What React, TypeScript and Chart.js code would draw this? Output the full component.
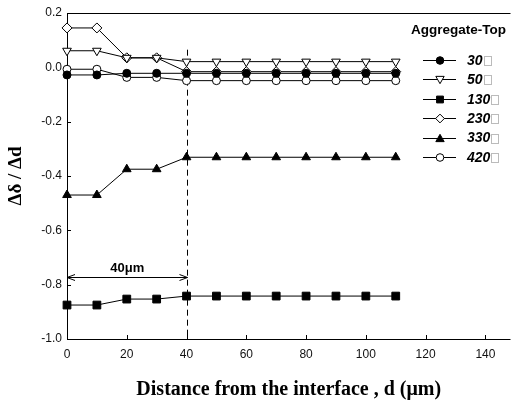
import React, { useEffect, useRef } from "react";
import { Chart, registerables } from "chart.js";
Chart.register(...registerables);

const distances = [0, 10, 20, 30, 40, 50, 60, 70, 80, 90, 100, 110];
const seriesLabels = ["30", "50", "130", "230", "330", "420"];
const s30 = [-0.028, -0.028, -0.022, -0.022, -0.022, -0.022, -0.022, -0.022, -0.022, -0.022, -0.022, -0.022];
const s50 = [0.061, 0.061, 0.035, 0.035, 0.021, 0.021, 0.021, 0.021, 0.021, 0.021, 0.021, 0.021];
const s130 = [-0.875, -0.875, -0.853, -0.853, -0.842, -0.842, -0.842, -0.842, -0.842, -0.842, -0.842, -0.842];
const s230 = [0.145, 0.145, 0.035, 0.035, -0.016, -0.016, -0.016, -0.016, -0.016, -0.016, -0.016, -0.016];
const s330 = [-0.47, -0.47, -0.375, -0.375, -0.331, -0.331, -0.331, -0.331, -0.331, -0.331, -0.331, -0.331];
const s420 = [-0.007, -0.007, -0.037, -0.037, -0.049, -0.049, -0.049, -0.049, -0.049, -0.049, -0.049, -0.049];
const xTicks = [0, 20, 40, 60, 80, 100, 120, 140];
const yTicks = [-1.0, -0.8, -0.6, -0.4, -0.2, 0.0, 0.2];
const markerLine = 40;
const arrowY = -0.772;
const dashTop = 0.065;

type Marker = { style: string; rot: number; filled: boolean; r: number };
const markers: Marker[] = [
  { style: "circle", rot: 0, filled: true, r: 4 },
  { style: "triangle", rot: 180, filled: false, r: 5 },
  { style: "rect", rot: 0, filled: true, r: 5.5 },
  { style: "rectRot", rot: 0, filled: false, r: 5 },
  { style: "triangle", rot: 0, filled: true, r: 5 },
  { style: "circle", rot: 0, filled: false, r: 4 },
];
const values = [s30, s50, s130, s230, s330, s420];

function drawMarker(ctx: CanvasRenderingContext2D, m: Marker, x: number, y: number, r: number) {
  ctx.save();
  ctx.translate(x, y);
  ctx.rotate((m.rot * Math.PI) / 180);
  ctx.beginPath();
  if (m.style === "circle") {
    ctx.arc(0, 0, r, 0, Math.PI * 2);
  } else if (m.style === "rect") {
    const s = r * 0.9;
    ctx.rect(-s, -s, 2 * s, 2 * s);
  } else if (m.style === "rectRot") {
    const s = r * 1.15;
    ctx.moveTo(0, -s);
    ctx.lineTo(s, 0);
    ctx.lineTo(0, s);
    ctx.lineTo(-s, 0);
    ctx.closePath();
  } else if (m.style === "triangle") {
    const s = r * 1.1;
    ctx.moveTo(0, -s);
    ctx.lineTo(s, s * 0.75);
    ctx.lineTo(-s, s * 0.75);
    ctx.closePath();
  }
  ctx.fillStyle = m.filled ? "#000" : "#fff";
  ctx.fill();
  ctx.lineWidth = 1;
  ctx.strokeStyle = "#000";
  ctx.stroke();
  ctx.restore();
}

const framePlugin = {
  id: "frame",
  beforeDatasetsDraw(chart: any) {
    const { ctx, chartArea: a, scales } = chart;
    const xs = scales.x, ys = scales.y;
    ctx.save();
    ctx.strokeStyle = "#000";
    ctx.lineWidth = 1;
    ctx.beginPath();
    ctx.moveTo(a.left + 0.5, a.top + 0.5);
    ctx.lineTo(a.right, a.top + 0.5);
    ctx.moveTo(a.left + 0.5, a.top);
    ctx.lineTo(a.left + 0.5, a.bottom + 0.5);
    ctx.lineTo(a.right, a.bottom + 0.5);
    ctx.stroke();
    ctx.beginPath();
    xTicks.forEach((t) => {
      const px = Math.round(xs.getPixelForValue(t)) + 0.5;
      ctx.moveTo(px, a.bottom);
      ctx.lineTo(px, a.bottom - 4);
    });
    yTicks.forEach((t) => {
      const py = Math.round(ys.getPixelForValue(t)) + 0.5;
      ctx.moveTo(a.left, py);
      ctx.lineTo(a.left + 4, py);
    });
    ctx.stroke();
    // dashed line
    const dx = Math.round(xs.getPixelForValue(markerLine)) + 0.5;
    ctx.setLineDash([6, 4]);
    ctx.beginPath();
    ctx.moveTo(dx, ys.getPixelForValue(dashTop));
    ctx.lineTo(dx, a.bottom);
    ctx.stroke();
    ctx.setLineDash([]);
    // arrow
    const ay = Math.round(ys.getPixelForValue(arrowY)) + 0.5;
    const x0 = xs.getPixelForValue(0);
    ctx.beginPath();
    ctx.moveTo(x0, ay);
    ctx.lineTo(dx, ay);
    ctx.moveTo(x0 + 8, ay - 3);
    ctx.lineTo(x0, ay);
    ctx.lineTo(x0 + 8, ay + 3);
    ctx.moveTo(dx - 8, ay - 3);
    ctx.lineTo(dx, ay);
    ctx.lineTo(dx - 8, ay + 3);
    ctx.stroke();
    ctx.fillStyle = "#000";
    ctx.font = "bold 13px Arial, 'Liberation Sans', sans-serif";
    ctx.textAlign = "center";
    ctx.textBaseline = "bottom";
    ctx.fillText("40\u03bcm", (x0 + dx) / 2, ay - 3);
    ctx.restore();
  },
  afterDatasetsDraw(chart: any) {
    const { ctx } = chart;
    ctx.save();
    ctx.fillStyle = "#000";
    ctx.font = "bold 13.5px Arial, 'Liberation Sans', sans-serif";
    ctx.textAlign = "left";
    ctx.textBaseline = "middle";
    ctx.fillText("Aggregate-Top", 411, 30);
    const ys0 = 60, gap = 19.4;
    seriesLabels.forEach((lab, i) => {
      const y = ys0 + i * gap;
      ctx.strokeStyle = "#000";
      ctx.lineWidth = 1;
      ctx.beginPath();
      ctx.moveTo(423, Math.round(y) + 0.5);
      ctx.lineTo(456, Math.round(y) + 0.5);
      ctx.stroke();
      drawMarker(ctx, markers[i], 440, Math.round(y) + 0.5, 3.8);
      ctx.font = "italic bold 14px Arial, 'Liberation Sans', sans-serif";
      ctx.fillStyle = "#000";
      ctx.fillText(lab, 467, y + 1);
      const w = ctx.measureText(lab).width;
      ctx.strokeStyle = "#bbb";
      ctx.strokeRect(Math.round(467 + w) + 1.5, Math.round(y) - 3.5, 7, 9);
    });
    ctx.restore();
  },
};

export default function App() {
  const ref = useRef<HTMLCanvasElement | null>(null);
  useEffect(() => {
    if (!ref.current) return;
    const chart = new Chart(ref.current, {
      type: "line",
      data: {
        datasets: values.map((v, i) => ({
          label: seriesLabels[i],
          data: v.map((y, j) => ({ x: distances[j], y })),
          borderColor: "#000",
          borderWidth: 1,
          pointStyle: markers[i].style as any,
          pointRotation: markers[i].rot,
          pointRadius: markers[i].r,
          pointBackgroundColor: markers[i].filled ? "#000" : "#fff",
          pointBorderColor: "#000",
          pointBorderWidth: 1,
          tension: 0,
          fill: false,
          clip: false as any,
        })),
      },
      options: {
        animation: false,
        responsive: false,
        maintainAspectRatio: false,
        layout: { padding: { left: 0, top: 13, right: 0, bottom: 0 } },
        plugins: { legend: { display: false }, tooltip: { enabled: false } },
        scales: {
          x: {
            type: "linear",
            min: 0,
            max: 148.4,
            afterBuildTicks: (s: any) => {
              s.ticks = xTicks.map((v) => ({ value: v }));
            },
            afterFit: (s: any) => {
              s.height = 63;
            },
            grid: { display: false, drawTicks: false },
            border: { display: false },
            ticks: {
              color: "#111",
              font: { family: "Arial, 'Liberation Sans', sans-serif", size: 12 },
              padding: 8,
              maxRotation: 0,
              autoSkip: false,
            },
            title: {
              display: true,
              text: "Distance from the interface , d (\u03bcm)",
              color: "#000",
              font: { family: "'Times New Roman', 'Liberation Serif', serif", size: 20, weight: "bold" },
              padding: { top: 9, bottom: 0 },
            },
          },
          y: {
            min: -1.0,
            max: 0.2,
            afterBuildTicks: (s: any) => {
              s.ticks = yTicks.map((v) => ({ value: v }));
            },
            afterFit: (s: any) => {
              s.width = 67;
            },
            grid: { display: false, drawTicks: false },
            border: { display: false },
            ticks: {
              color: "#111",
              font: { family: "Arial, 'Liberation Sans', sans-serif", size: 12 },
              padding: 5,
              callback: (v: any) => Number(v).toFixed(1),
            },
            title: {
              display: true,
              text: "\u0394\u03b4 / \u0394d",
              color: "#000",
              font: { family: "'Times New Roman', 'Liberation Serif', serif", size: 19, weight: "bold" },
              padding: { top: 5, bottom: 8 },
            },
          },
        },
      },
      plugins: [framePlugin],
    });
    return () => chart.destroy();
  }, []);
  return (
    <div style={{ position: "fixed", left: 0, top: 0, width: 517, height: 402, background: "#fff" }}>
      <canvas ref={ref} width={517} height={402} style={{ width: 517, height: 402 }} />
    </div>
  );
}
